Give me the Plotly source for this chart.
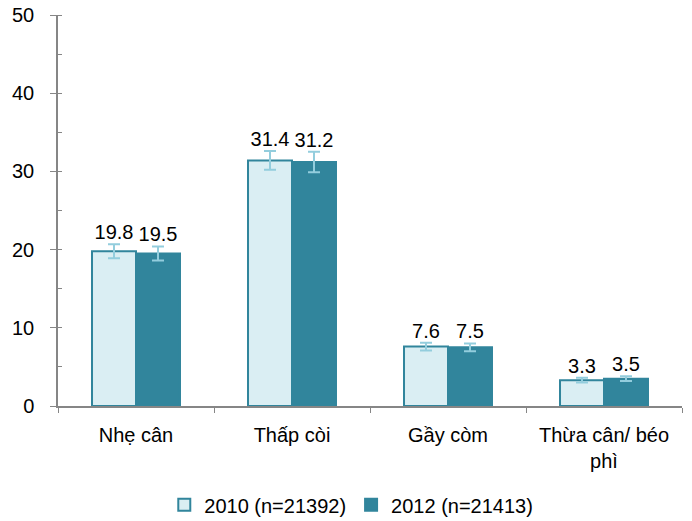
import plotly.graph_objects as go

categories = ["Nhẹ cân", "Thấp còi", "Gầy còm", "Thừa cân/ béo<br>phì"]
vals_2010 = [19.8, 31.4, 7.6, 3.3]
vals_2012 = [19.5, 31.2, 7.5, 3.5]
err_2010 = [0.9, 1.2, 0.5, 0.3]
err_2012 = [0.9, 1.3, 0.5, 0.3]
names = ["2010 (n=21392)", "2012 (n=21413)"]

dark = "#31859C"
light = "#DAEEF3"
err_col = "#93CDDD"
axis_col = "#868686"
font = dict(family="Liberation Sans, Arial", size=20, color="#000000")

fig = go.Figure()

for vals, errs, name, fill in [
    (vals_2010, err_2010, names[0], light),
    (vals_2012, err_2012, names[1], dark),
]:
    fig.add_trace(go.Bar(
        x=categories, y=vals, name=name,
        marker=dict(color=fill, line=dict(color=dark, width=2)),
        error_y=dict(type="data", array=errs, color=err_col, thickness=2, width=6),
    ))

# value labels placed above the error bars
bargap = 0.436
half = (1 - bargap) / 4
xs = list(range(len(categories)))
for sign, vals, errs in [(-1, vals_2010, err_2010), (1, vals_2012, err_2012)]:
    fig.add_trace(go.Scatter(
        x=[x + sign * half for x in xs], y=[v + e for v, e in zip(vals, errs)],
        text=[f"{v:.1f}" for v in vals], mode="text",
        textposition="top center", textfont=font,
        showlegend=False, hoverinfo="skip",
        xaxis="x2",
    ))

fig.update_layout(
    width=692, height=521,
    margin=dict(l=58, r=10, t=15, b=115, autoexpand=False),
    plot_bgcolor="white", paper_bgcolor="white",
    font=font,
    barmode="group", bargap=bargap, bargroupgap=0,
    showlegend=True,
    legend=dict(orientation="h", x=0.47, xanchor="center", yref="container",
                y=0.031, yanchor="middle", font=font, itemwidth=30,
                traceorder="normal"),
    xaxis=dict(showline=True, linecolor=axis_col, linewidth=1.5, ticks="outside",
               tickcolor=axis_col, ticklen=5, tickson="boundaries", showgrid=False,
               tickfont=font, ticklabelstandoff=10, automargin=False),
    xaxis2=dict(overlaying="x", range=[-0.5, 3.5], visible=False),
    yaxis=dict(range=[0, 50], tickvals=[0, 10, 20, 30, 40, 50], showline=True,
               linecolor=axis_col, linewidth=1.5, ticks="outside", tickcolor=axis_col,
               ticklen=6, showgrid=False, zeroline=False, tickfont=font,
               ticklabelstandoff=12, automargin=False, ticklabeloverflow="allow",
               minor=dict(dtick=5, ticks="inside", ticklen=4, tickcolor=axis_col)),
)

fig.write_html(
    "out.html",
    config={"displayModeBar": False},
    post_script="document.body.style.margin='0';document.body.style.overflow='hidden';",
)
